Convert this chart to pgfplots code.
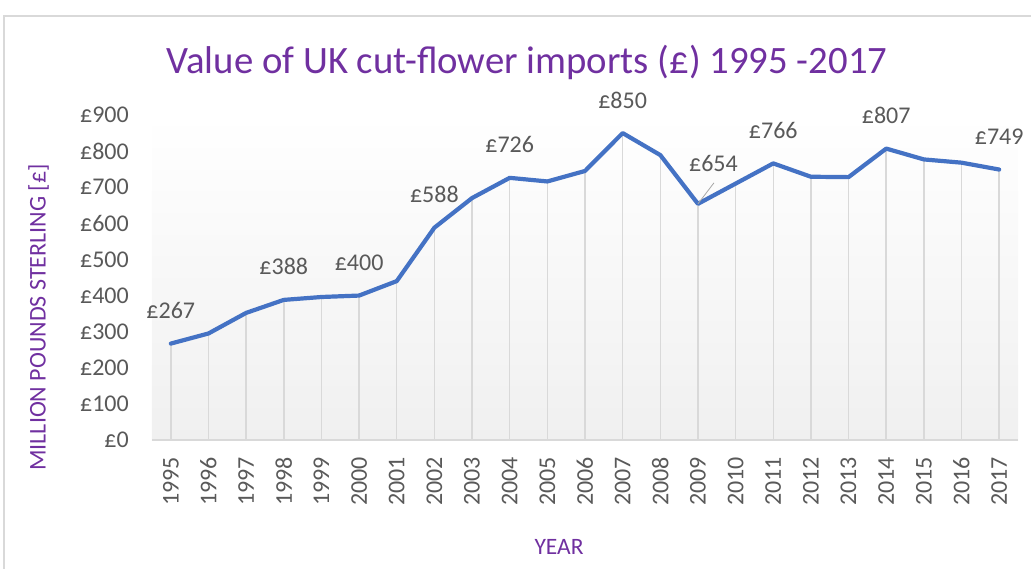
\documentclass[border=0pt]{standalone}
\usepackage{fontspec}
\setmainfont{Carlito}
\usepackage{pgfplots}
\pgfplotsset{compat=1.18}
\definecolor{linblue}{HTML}{4472C4}
\definecolor{ttl}{HTML}{7030A0}
\definecolor{txt}{HTML}{595959}
\definecolor{grd}{HTML}{D9D9D9}
\definecolor{bgg}{HTML}{F0F0F0}
\newcommand{\fs}[1]{\fontsize{#1}{#1}\selectfont}
\begin{document}
\begin{tikzpicture}
\path[use as bounding box] (-152pt,-128pt) rectangle (879pt,440pt);
\draw[grd, line width=1.2pt] (-148pt,-140pt) -- (-148pt,424pt) -- (900pt,424pt);
\begin{axis}[at={(0pt,0pt)}, anchor=south west, scale only axis,
  width=866pt, height=325pt,
  xmin=1994.5, xmax=2017.5, ymin=0, ymax=900,
  clip=false,
  axis x line=bottom, axis y line=left,
  y axis line style={draw=none},
  x axis line style={grd, line width=1.5pt, -},
  axis background/.style={shade, top color=white, bottom color=bgg},
  major tick length=0pt,
  /pgf/number format/assume math mode=true,
  xtick={1995,...,2017},
  xticklabels={1995,1996,1997,1998,1999,2000,2001,2002,2003,2004,2005,2006,2007,2008,2009,2010,2011,2012,2013,2014,2015,2016,2017},
  ytick={0,100,...,900},
  yticklabel={£\pgfmathprintnumber{\tick}},
  xticklabel style={rotate=90, anchor=east, inner sep=0pt, font=\fs{24}, text=txt},
  yticklabel style={anchor=east, inner sep=0pt, font=\fs{24}, text=txt},
  xticklabel shift=17pt, yticklabel shift=23pt,
]
\addplot[ycomb, grd, line width=1.5pt] table {
x y
1995 267
1996 295
1997 352
1998 388
1999 396
2000 400
2001 440
2002 588
2003 670
2004 726
2005 716
2006 745
2007 850
2008 789
2009 654
2010 710
2011 766
2012 729
2013 728
2014 807
2015 777
2016 768
2017 749
};
\addplot[linblue, line width=4.2pt, line join=round, line cap=round] table {
x y
1995 267
1996 295
1997 352
1998 388
1999 396
2000 400
2001 440
2002 588
2003 670
2004 726
2005 716
2006 745
2007 850
2008 789
2009 654
2010 710
2011 766
2012 729
2013 728
2014 807
2015 777
2016 768
2017 749
};
\addplot[draw=none, nodes near coords, point meta=explicit symbolic,
  every node near coord/.append style={anchor=base, yshift=25pt, inner sep=0pt, font=\fs{24}, text=txt}]
  table[meta=lab] {
x y lab
1995 267 £267
1998 388 £388
2000 400 £400
2002 588 £588
2004 726 £726
2007 850 £850
2011 766 £766
2014 807 £807
2017 749 £749
};
\addplot[draw=none, nodes near coords, point meta=explicit symbolic,
  every node near coord/.append style={anchor=base, xshift=15.5pt, yshift=32pt, inner sep=0pt, font=\fs{24}, text=txt}]
  table[meta=lab] {
x y lab
2009 654 £654
};
\draw[gray!70, line width=0.8pt] (axis cs:2009,654) -- ++(16pt,21pt);
\node[anchor=base, font=\fs{38.75}, text=ttl, inner sep=0pt] at (axis description cs:0.433,1.129) {Value of UK cut-flower imports (£) 1995 -2017};
\node[rotate=90, font=\fs{24}, text=ttl, inner sep=0pt] at (axis description cs:-0.131,0.377) {MILLION POUNDS STERLING [£]};
\node[font=\fs{23.5}, text=ttl, inner sep=0pt] at (axis description cs:0.47,-0.329) {YEAR};
\end{axis}
\end{tikzpicture}
\end{document}
